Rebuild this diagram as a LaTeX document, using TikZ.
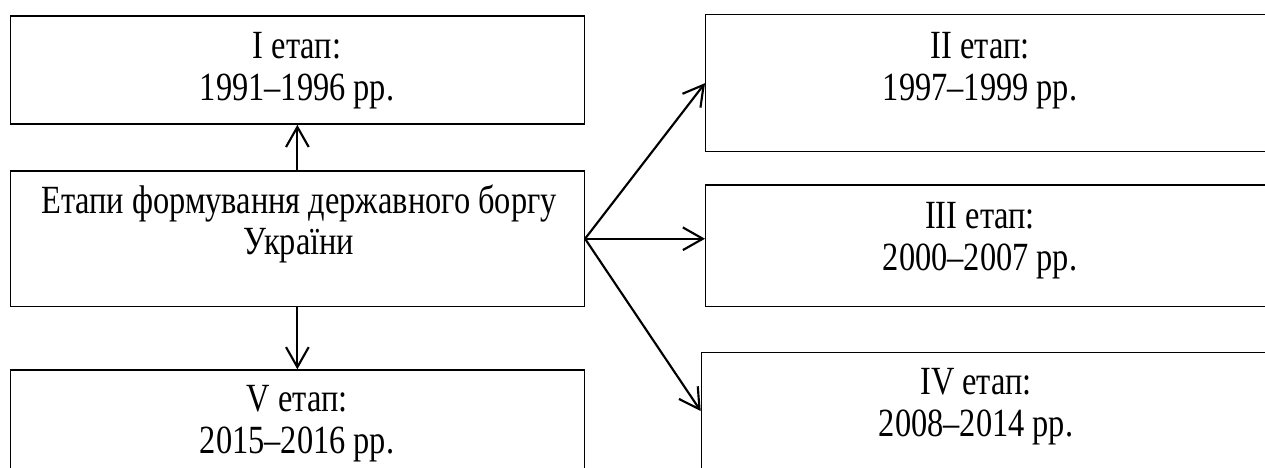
\documentclass[tikz,border=0pt]{standalone}
\usepackage{fontspec}
\setmainfont{Liberation Serif}[FakeStretch=0.81]
\usetikzlibrary{arrows.meta}
\begin{document}
\begin{tikzpicture}[x=0.375pt,y=-0.375pt,
  box/.style={draw, line width=0.5pt, inner sep=0pt, anchor=north west},
  lbl/.style={font=\fontsize{15}{15.6}\selectfont, align=center, anchor=north, inner sep=0pt},
  arr/.style={line width=0.8pt, -{Straight Barb[length=7.5pt,width=8.5pt]}}]
\useasboundingbox (0,0) rectangle (1265,468);
\clip (0,0) rectangle (1265,468);
% boxes
\node[box, minimum width=574*0.375pt, minimum height=108.2*0.375pt] (b1) at (9.7,15.3) {};
\node[box, minimum width=574*0.375pt, minimum height=135.8*0.375pt] (b0) at (9.7,170.2) {};
\node[box, minimum width=574*0.375pt, minimum height=110*0.375pt] (b5) at (9.7,369.3) {};
\node[box, minimum width=570*0.375pt, minimum height=137*0.375pt] (b2) at (705,14) {};
\node[box, minimum width=570*0.375pt, minimum height=121.7*0.375pt] (b3) at (705,184.3) {};
\node[box, minimum width=574.3*0.375pt, minimum height=128.3*0.375pt] (b4) at (700.7,351.7) {};
% texts
\node[lbl] (t1) at (297,32) {I етап:\\1991–1996 рр.};
\node[lbl] (t0) at (299,184) {Етапи формування державного боргу\\України};
\node[lbl] (t5) at (297,385) {V етап:\\2015–2016 рр.};
\node[lbl] (t2) at (980,32) {II етап:\\1997–1999 рр.};
\node[lbl] (t3) at (980,202) {III етап:\\2000–2007 рр.};
\node[lbl] (t4) at (976,368) {IV етап:\\2008–2014 рр.};
% connectors
\coordinate (fan) at (b0.east);
\draw[arr] (b0.north) -- (b1.south);
\draw[arr] (b0.south) -- (b5.north);
\draw[arr] (fan) -- (b2.west);
\draw[arr] (fan) -- (fan -| b3.west);
\draw[arr] (fan) -- (b4.west |- 0,411);
\end{tikzpicture}
\end{document}
